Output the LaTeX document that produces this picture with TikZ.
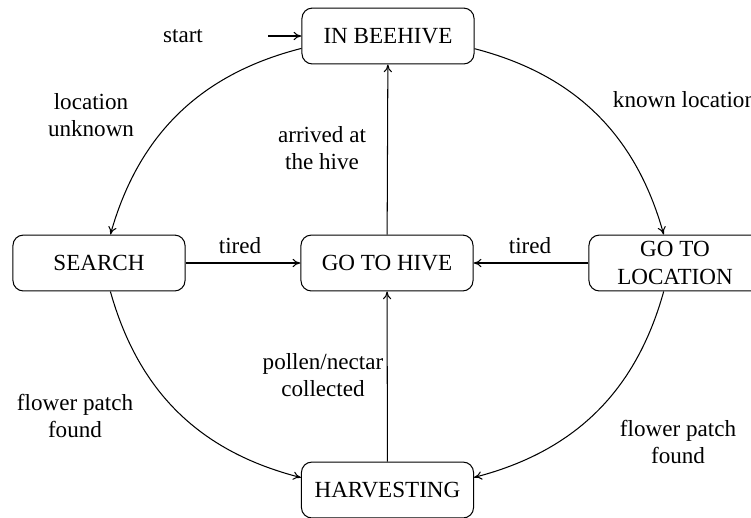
\documentclass[tikz,border=0pt]{standalone}
\usepackage{fontspec}
\setmainfont{Liberation Serif}
\usetikzlibrary{arrows.meta}
\begin{document}
\begin{tikzpicture}[x=0.4329pt,y=0.4329pt,>={To[length=3.4pt,width=3.6pt]},line width=0.45pt,
  state/.style={draw, rounded corners=4.5pt, minimum width=74.5pt, minimum height=24.2pt,
    align=center, inner ysep=1pt, font=\fontsize{10}{12}\selectfont},
  lbl/.style={align=center, inner sep=0pt, font=\fontsize{10}{12}\selectfont}]
\useasboundingbox (0,0) rectangle (751,-517);
\clip (0,0) rectangle (751,-517);
\node[state] (inb) at (388,-36) {IN BEEHIVE};
\node[state] (search) at (99,-263) {SEARCH};
\node[state] (gohive) at (387,-263) {GO TO HIVE};
\node[state] (goloc) at (675,-263) {GO TO\\LOCATION};
\node[state] (harv) at (387.5,-490) {HARVESTING};
\node[lbl] (start) at (183,-36) {start};
\coordinate (startc) at (268,-36);
\draw[->] (startc) -- (inb);
\draw[->] (inb) to[bend right=30] (search);
\draw[->] (inb) to[bend left=30] (goloc);
\draw[->] (search) -- (gohive);
\draw[->] (goloc) -- (gohive);
\draw[->] (gohive) -- (inb);
\draw[->] (harv) -- (gohive);
\draw[->] (search) to[bend right=30] (harv);
\draw[->] (goloc) to[bend left=30] (harv);
\node[lbl] (l1) at (91,-115) {location\\unknown};
\node[lbl] (l2) at (684.5,-100) {known location};
\node[lbl] (l3) at (322,-148) {arrived at\\the hive};
\node[lbl] (l4) at (240,-246) {tired};
\node[lbl] (l5) at (530,-246) {tired};
\node[lbl] (l6) at (323,-375) {pollen/nectar\\collected};
\node[lbl] (l7) at (75,-416) {flower patch\\found};
\node[lbl] (l8) at (678,-442) {flower patch\\found};
\end{tikzpicture}
\end{document}
